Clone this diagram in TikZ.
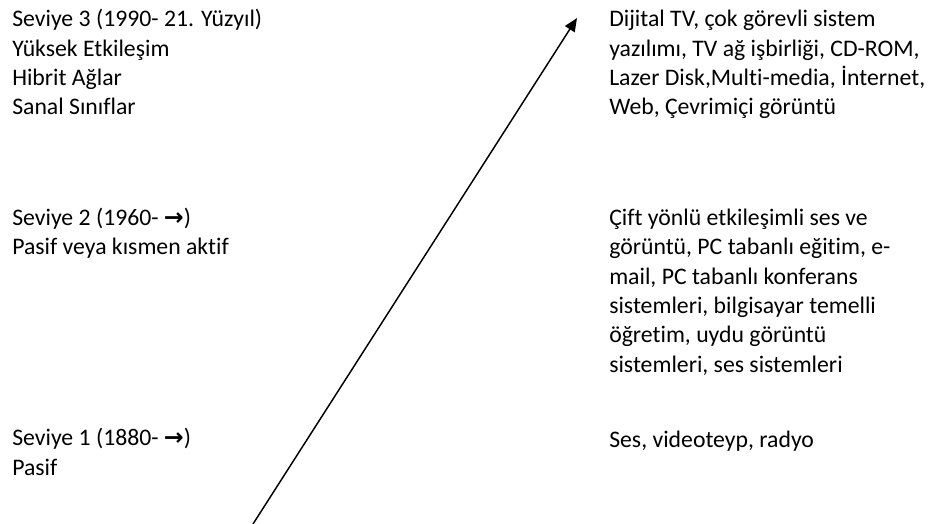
\documentclass[tikz,border=0pt]{standalone}
\usepackage{fontspec}
\setmainfont[Ligatures=NoCommon]{Carlito}
\newfontfamily\symfont{DejaVu Sans}
\usetikzlibrary{arrows.meta}
\newcommand{\ra}{{\symfont\bfseries →}}
\tikzset{
  % plain text block, left aligned (base = last line)
  TX/.style={anchor=base west,align=left,inner sep=0pt,
             font=\fontsize{17.8}{22}\selectfont,text=black},
  % the single rising arrow
  Arr/.style={-{Triangle[length=10pt,width=8.5pt]},line width=1.1pt,color=black},
}
\begin{document}
\begin{tikzpicture}[x=0.75pt,y=-0.75pt]
  \useasboundingbox (0,0) rectangle (936,524);
  % left column: levels
  \node[TX] (lvl3) at (12,115)
        {Seviye 3 (1990- 21. Yüzyıl)\\Yüksek Etkileşim\\Hibrit Ağlar\\Sanal Sınıflar};
  \node[TX] (lvl2) at (12,255)
        {Seviye 2 (1960- \ra)\\Pasif veya kısmen aktif};
  \node[TX] (lvl1) at (12,475)
        {Seviye 1 (1880- \ra)\\Pasif};
  % right column: technologies
  \node[TX] (tec3) at (609,115)
        {Dijital TV, çok görevli sistem\\yazılımı, TV ağ işbirliği, CD-ROM,\\Lazer Disk,Multi-media, İnternet,\\Web, Çevrimiçi görüntü};
  \node[TX] (tec2) at (609,372)
        {Çift yönlü etkileşimli ses ve\\görüntü, PC tabanlı eğitim, e-\\mail, PC tabanlı konferans\\sistemleri, bilgisayar temelli\\öğretim, uydu görüntü\\sistemleri, ses sistemleri};
  \node[TX] (tec1) at (609,447)
        {Ses, videoteyp, radyo};
  % arrow
  \coordinate (start) at (253,524);
  \coordinate (tip) at (577,18);
  \draw[Arr] (start) -- (tip);
\end{tikzpicture}
\end{document}
